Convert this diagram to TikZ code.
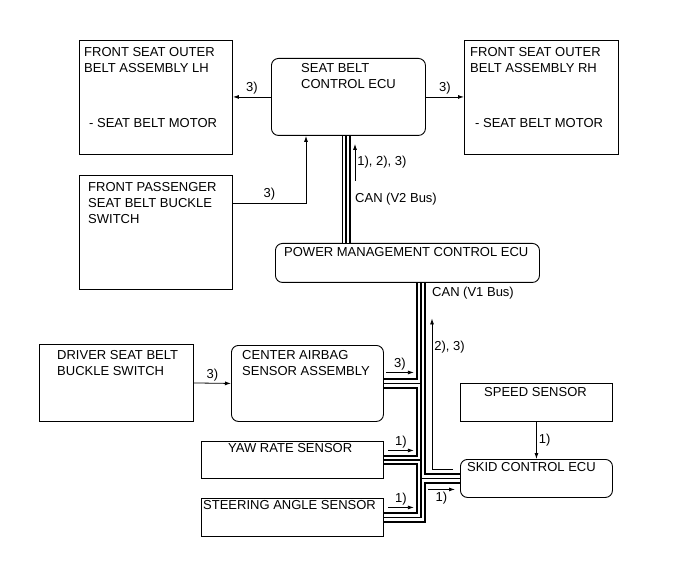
\documentclass[tikz,border=0pt]{standalone}
\usepackage{fontspec}
\setmainfont{Liberation Sans}
\usetikzlibrary{arrows.meta}

\begin{document}
\begin{tikzpicture}[x=1pt,y=-1pt,
    every node/.style={font=\fontsize{13}{16}\selectfont},
    box/.style={draw,line width=0.9pt,anchor=north west,inner sep=0pt},
    ecu/.style={box,rounded corners=7pt},
    txt/.style={anchor=north west,align=left,inner sep=0pt},
    sig/.style={line width=0.8pt,-{Latex[length=6pt,width=4pt]}},
    lbl/.style={inner sep=2pt}]

    \useasboundingbox (0,0) rectangle (691,564);

    % boxes
    \node[box,minimum width=153,minimum height=114] (lh) at (79,40) {};
    \node[ecu,minimum width=154,minimum height=77] (sb) at (271,58) {};
    \node[box,minimum width=154,minimum height=114] (rh) at (464,40) {};
    \node[box,minimum width=153,minimum height=114] (fp) at (79,175) {};
    \node[ecu,minimum width=264,minimum height=39] (pm) at (275,243) {};
    \node[box,minimum width=154,minimum height=77] (dsb) at (39,344) {};
    \node[ecu,minimum width=152,minimum height=76] (cas) at (231,345) {};
    \node[box,minimum width=182,minimum height=37] (yaw) at (201,441) {};
    \node[box,minimum width=182,minimum height=38] (sas) at (201,498) {};
    \node[box,minimum width=152,minimum height=38] (ss) at (460,383) {};
    \node[ecu,minimum width=152,minimum height=38] (skid) at (460,459) {};

    % box texts
    \node[txt] at ([shift={(5,7)}]lh.north west) {FRONT SEAT OUTER\\BELT ASSEMBLY LH};
    \node[txt] at ([shift={(10,78)}]lh.north west) {- SEAT BELT MOTOR};
    \node[txt] at ([shift={(6,7)}]rh.north west) {FRONT SEAT OUTER\\BELT ASSEMBLY RH};
    \node[txt] at ([shift={(11,78)}]rh.north west) {- SEAT BELT MOTOR};
    \node[txt] at ([shift={(30,5)}]sb.north west) {SEAT BELT\\CONTROL ECU};
    \node[txt] at ([shift={(9,7)}]fp.north west) {FRONT PASSENGER\\SEAT BELT BUCKLE\\SWITCH};
    \node[txt] at ([shift={(9,4)}]pm.north west) {POWER MANAGEMENT CONTROL ECU};
    \node[txt] at ([shift={(18,6)}]dsb.north west) {DRIVER SEAT BELT\\BUCKLE SWITCH};
    \node[txt] at ([shift={(11,5)}]cas.north west) {CENTER AIRBAG\\SENSOR ASSEMBLY};
    \node[txt] at ([shift={(27,2)}]yaw.north west) {YAW RATE SENSOR};
    \node[txt] at ([shift={(2,2)}]sas.north west) {STEERING ANGLE SENSOR};
    \node[txt] at ([shift={(24,4)}]ss.north west) {SPEED SENSOR};
    \node[txt] at ([shift={(7,3)}]skid.north west) {SKID CONTROL ECU};

    % CAN buses
    \coordinate (v2) at ([xshift=75pt]sb.south west);
    \coordinate (v1) at ([xshift=146pt]pm.south west);
    \foreach \w/\c in {9pt/black,6pt/white,1.5pt/black} {
      \draw[line width=\w,\c] (sb.south -| v2) -- (pm.north -| v2);
    }
    \foreach \w/\c in {10.5pt/black,6.5pt/white,1.5pt/black} {
      \draw[line width=\w,\c,line join=miter] (pm.south -| v1) -- (sas.east -| v1) -- (sas.east);
      \draw[line width=\w,\c] (cas.east) -- (cas.east -| v1);
      \draw[line width=\w,\c] (yaw.east) -- (yaw.east -| v1);
      \draw[line width=\w,\c] (skid.west -| v1) -- (skid.west);
    }
    \node[txt,anchor=west] at ([shift={(9,63)}]v2) {CAN (V2 Bus)};
    \node[txt,anchor=west] at ([shift={(11,10)}]v1) {CAN (V1 Bus)};

    % signals
    \draw[sig] (sb.west) -- (lh.east |- sb.west) node[lbl,midway,above] {3)};
    \draw[sig] (sb.east) -- (rh.west |- sb.east) node[lbl,midway,above] {3)};
    \draw[sig] ([yshift=-28pt]fp.north east) -| ([xshift=35pt]sb.south west)
      node[lbl,pos=0.25,above] {3)};
    \draw[sig] ([shift={(9,45)}]v2) -- ([shift={(9,8)}]v2)
      node[lbl,midway,right] {1), 2), 3)};
    \draw[sig] (dsb.east) -- (cas.west) node[lbl,midway,above] {3)};
    \draw[sig] ([shift={(2,-11)}]cas.east) -- ++(28,0) node[lbl,midway,above] {3)};
    \draw[sig] ([shift={(4,-9.5)}]yaw.east) -- ++(26,0) node[lbl,midway,above] {1)};
    \draw[sig] ([shift={(4,-10)}]sas.east) -- ++(26,0) node[lbl,midway,above] {1)};
    \draw[sig] ([shift={(-32,11)}]skid.west) -- ++(27,0) node[lbl,midway,below] {1)};
    \draw[sig] ([shift={(-7,-9)}]skid.west) -- ++(-21,0) -- ++(0,-151)
      node[lbl,pos=0.81,right] {2), 3)};
    \draw[sig] (ss.south) -- (skid.north) node[lbl,midway,right] {1)};

\end{tikzpicture}
\end{document}
